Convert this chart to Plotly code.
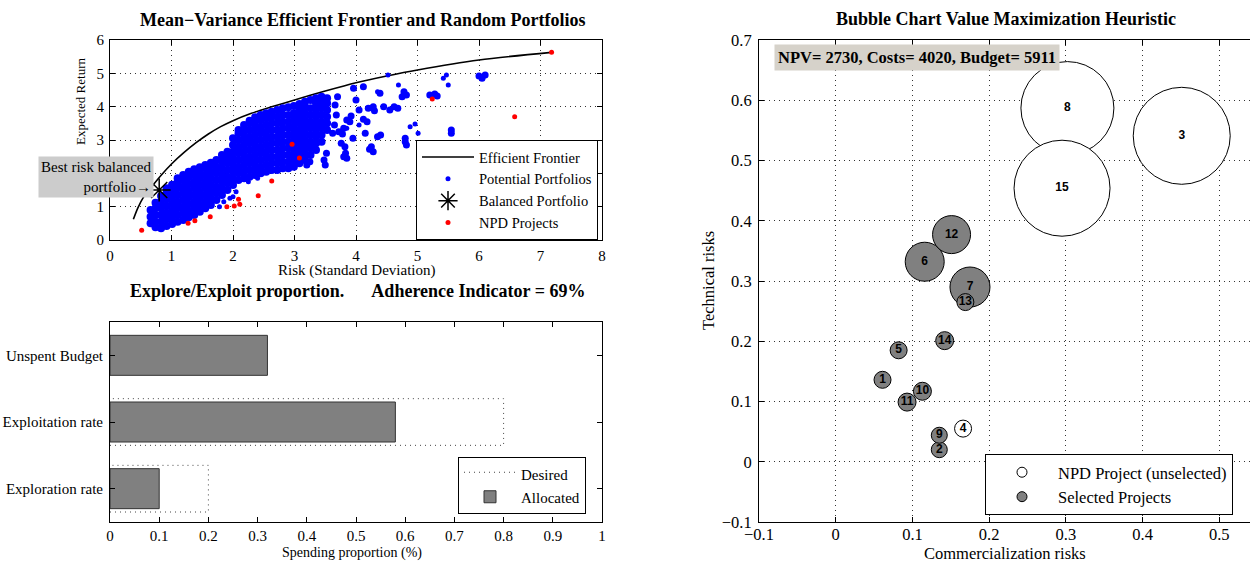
import plotly.graph_objects as go

# ---------------- data: top-left (efficient frontier) ----------------
frontier_risk = [0.38, 0.45, 0.55, 0.7, 0.85, 1.0, 1.2, 1.4, 1.6, 1.8, 2.0, 2.3, 2.6, 3.0, 3.5, 4.0, 4.5, 5.0, 6.0, 7.18]
frontier_ret = [0.62, 0.95, 1.3, 1.65, 1.98, 2.28, 2.62, 2.92, 3.18, 3.4, 3.58, 3.8, 3.98, 4.2, 4.47, 4.72, 4.92, 5.1, 5.4, 5.63]

# y tick labels of the top-left panel ("2" is hidden under the annotation box in the original)
ret_tickvals = [0, 1, 2, 3, 4, 5, 6]
ret_ticktext = ["0", "1", "", "3", "4", "5", "6"]

# dense part of the random-portfolio cloud, read column by column (risk, [returns])
cloud_cols = [
    (0.66, [0.5, 0.7, 0.9]),
    (0.74, [0.38, 0.55, 0.75, 0.95, 1.12]),
    (0.83, [0.35, 0.55, 0.75, 0.95, 1.15, 1.32]),
    (0.92, [0.42, 0.62, 0.82, 1.02, 1.22, 1.42, 1.55]),
    (1.01, [0.48, 0.68, 0.88, 1.08, 1.28, 1.48, 1.66]),
    (1.10, [0.55, 0.75, 0.95, 1.15, 1.35, 1.55, 1.75, 1.85]),
    (1.19, [0.6, 0.8, 1.0, 1.2, 1.4, 1.6, 1.8, 1.95]),
    (1.28, [0.68, 0.88, 1.08, 1.28, 1.48, 1.68, 1.88, 2.05]),
    (1.37, [0.75, 0.95, 1.15, 1.35, 1.55, 1.75, 1.95, 2.12]),
    (1.46, [0.85, 1.05, 1.25, 1.45, 1.65, 1.85, 2.05, 2.18]),
    (1.55, [0.95, 1.15, 1.35, 1.55, 1.75, 1.95, 2.15, 2.25]),
    (1.64, [1.05, 1.25, 1.45, 1.65, 1.85, 2.05, 2.25, 2.32]),
    (1.73, [1.2, 1.4, 1.6, 1.8, 2.0, 2.2, 2.4]),
    (1.82, [1.35, 1.55, 1.75, 1.95, 2.15, 2.35, 2.55]),
    (1.91, [1.5, 1.7, 1.9, 2.1, 2.3, 2.5, 2.65]),
    (2.00, [1.65, 1.85, 2.05, 2.25, 2.45, 2.65, 2.85, 3.05]),
    (2.09, [1.8, 2.0, 2.2, 2.4, 2.6, 2.8, 3.0, 3.2, 3.3]),
    (2.18, [1.85, 2.05, 2.25, 2.45, 2.65, 2.85, 3.05, 3.25, 3.45]),
    (2.27, [1.9, 2.1, 2.3, 2.5, 2.7, 2.9, 3.1, 3.3, 3.5, 3.58]),
    (2.36, [1.95, 2.15, 2.35, 2.55, 2.75, 2.95, 3.15, 3.35, 3.55, 3.68]),
    (2.45, [2.0, 2.2, 2.4, 2.6, 2.8, 3.0, 3.2, 3.4, 3.6, 3.75]),
    (2.54, [2.05, 2.25, 2.45, 2.65, 2.85, 3.05, 3.25, 3.45, 3.65, 3.8]),
    (2.63, [2.1, 2.3, 2.5, 2.7, 2.9, 3.1, 3.3, 3.5, 3.7, 3.85]),
    (2.72, [2.1, 2.3, 2.5, 2.7, 2.9, 3.1, 3.3, 3.5, 3.7, 3.9]),
    (2.81, [2.15, 2.35, 2.55, 2.75, 2.95, 3.15, 3.35, 3.55, 3.75, 3.95]),
    (2.90, [2.15, 2.35, 2.55, 2.75, 2.95, 3.15, 3.35, 3.55, 3.75, 3.98]),
    (2.99, [2.2, 2.4, 2.6, 2.8, 3.0, 3.2, 3.4, 3.6, 3.8, 4.02]),
    (3.08, [2.3, 2.5, 2.7, 2.9, 3.1, 3.3, 3.5, 3.7, 3.9, 4.08]),
    (3.17, [2.4, 2.6, 2.8, 3.0, 3.2, 3.4, 3.6, 3.8, 4.0, 4.15]),
    (3.26, [2.55, 2.75, 2.95, 3.15, 3.35, 3.55, 3.75, 3.95, 4.2]),
    (3.35, [2.7, 2.9, 3.1, 3.3, 3.5, 3.7, 3.9, 4.1, 4.25]),
    (3.44, [2.95, 3.15, 3.35, 3.55, 3.75, 3.95, 4.15, 4.3]),
    (3.53, [3.3, 3.5, 3.7, 3.9, 4.1, 4.25]),
]

# outlying clusters of portfolios
cluster_pts = [
    (3.62, 3.2), (3.65, 3.45), (3.68, 3.75), (3.66, 4.05), (3.7, 4.3),
    (3.72, 3.25), (3.8, 3.35), (3.78, 3.18),
    (3.85, 3.6), (3.92, 3.72), (3.9, 3.55),
    (4.12, 3.62), (4.18, 3.55),
    (4.2, 3.95), (4.28, 4.0), (4.3, 3.88),
    (4.55, 3.9), (4.62, 4.0), (4.68, 3.95),
    (4.78, 4.45), (4.82, 4.35), (4.75, 4.3),
    (5.2, 4.35), (5.28, 4.38), (5.32, 4.32),
    (5.55, 3.3), (5.55, 3.2),
    (6.0, 4.92), (6.05, 4.85), (6.1, 4.95),
    (3.76, 2.9), (3.82, 2.8), (3.8, 2.5), (3.85, 2.45), (3.83, 2.6),
    (3.52, 2.6), (3.48, 2.4), (3.5, 2.25),
    (3.25, 2.35), (3.2, 2.25),
    (4.22, 2.72), (4.28, 2.65), (4.25, 2.8),
    (4.35, 3.1), (4.4, 3.15),
    (4.8, 2.95), (4.82, 2.85), (4.8, 3.05),
    (4.05, 3.9), (4.0, 4.2), (4.45, 4.0), (4.15, 3.2), (3.95, 3.05),
    (4.12, 4.6), (4.39, 4.4), (3.96, 4.55),
]

# isolated single portfolios
single_pts = [
    (4.52, 4.95), (4.69, 4.65), (5.42, 4.85), (5.47, 4.95), (5.5, 4.65),
    (4.88, 3.4), (4.96, 3.48), (5.01, 3.2), (4.35, 4.45), (4.05, 3.45),
    (3.85, 3.35), (1.85, 1.15), (1.95, 1.25), (2.0, 1.3), (2.05, 1.45),
    (1.78, 1.0), (2.25, 1.75), (2.4, 1.85),
]

balanced_risk = [0.8]
balanced_ret = [1.5]

npd_risk = [0.515, 1.27, 1.38, 1.63, 1.90, 2.02, 2.09, 2.11, 2.41, 2.63, 2.96, 3.08, 5.24, 6.58, 7.18]
npd_ret = [0.29, 0.5, 0.58, 0.7, 1.0, 1.02, 1.22, 1.07, 1.33, 1.77, 2.87, 2.46, 4.23, 3.70, 5.63]

# ---------------- data: bottom-left (explore / exploit) ----------------
bar_categories = ["Exploration rate", "Exploitation rate", "Unspent Budget"]
desired = [0.2, 0.8, 0.0]
allocated = [0.10, 0.58, 0.32]
adherence = 69

# ---------------- data: right (bubble chart) ----------------
project_ids = [1, 2, 3, 4, 5, 6, 7, 8, 9, 10, 11, 12, 13, 14, 15]
comm_risk = [0.061, 0.135, 0.451, 0.166, 0.082, 0.116, 0.175, 0.302, 0.135, 0.113, 0.093, 0.151, 0.169, 0.142, 0.295]
tech_risk = [0.136, 0.020, 0.541, 0.055, 0.185, 0.332, 0.290, 0.587, 0.044, 0.117, 0.099, 0.377, 0.265, 0.201, 0.454]
bubble_metric = [17, 16, 97, 17, 17, 39, 40, 93, 16, 18, 18, 38, 17, 18, 96]
selected = [1, 1, 0, 0, 1, 1, 1, 0, 1, 1, 1, 1, 1, 1, 0]
npv, costs, budget = 2730, 4020, 5911

# ---------------- figure ----------------
SERIF = "Liberation Serif"
SANS = "Liberation Sans"
fig = go.Figure()

cloud_x = [c[0] for c in cloud_cols for _ in c[1]]
cloud_y = [y for c in cloud_cols for y in c[1]]
blue = "#0000ff"

fig.add_trace(go.Scatter(x=frontier_risk, y=frontier_ret, mode="lines",
                         line=dict(color="black", width=1.6, shape="spline", smoothing=0.8),
                         name="Efficient Frontier", xaxis="x", yaxis="y", legend="legend"))
fig.add_trace(go.Scatter(x=cloud_x, y=cloud_y, mode="markers", marker=dict(color=blue, size=8),
                         showlegend=False, xaxis="x", yaxis="y"))
fig.add_trace(go.Scatter(x=[p[0] for p in cluster_pts], y=[p[1] for p in cluster_pts], mode="markers",
                         marker=dict(color=blue, size=7), showlegend=False, xaxis="x", yaxis="y"))
fig.add_trace(go.Scatter(x=[p[0] for p in single_pts], y=[p[1] for p in single_pts], mode="markers",
                         marker=dict(color=blue, size=5), name="Potential Portfolios", xaxis="x", yaxis="y", legend="legend"))
fig.add_trace(go.Scatter(x=balanced_risk, y=balanced_ret, mode="markers",
                         marker=dict(symbol="asterisk-open", size=19, color="black", line=dict(color="black", width=1.5)),
                         name="Balanced Portfolio", xaxis="x", yaxis="y", legend="legend"))
fig.add_trace(go.Scatter(x=npd_risk, y=npd_ret, mode="markers", marker=dict(color="#ff0000", size=5),
                         name="NPD Projects", xaxis="x", yaxis="y", legend="legend"))

# bottom-left: desired (dotted outline) and allocated bars
ypos = list(range(len(bar_categories)))
dx, dy = [], []
for i, d in enumerate(desired):
    if d > 0:
        dx += [0, d, d, 0, None]
        dy += [i - 0.35, i - 0.35, i + 0.35, i + 0.35, None]
fig.add_trace(go.Scatter(x=dx, y=dy, mode="lines", fill="toself", fillcolor="rgba(255,255,255,0)",
                         line=dict(color="#444444", width=1, dash="1px,4px"),
                         name="Desired", xaxis="x2", yaxis="y2", legend="legend2"))
fig.add_trace(go.Bar(x=allocated, y=ypos, orientation="h", width=0.6,
                     marker=dict(color="#808080", line=dict(color="#333333", width=1)),
                     name="Allocated", xaxis="x2", yaxis="y2", legend="legend2"))

# right: bubbles
for flag, fill in [(1, "#808080"), (0, "white")]:
    idx = [i for i in range(len(project_ids)) if selected[i] == flag]
    fig.add_trace(go.Scatter(
        x=[comm_risk[i] for i in idx], y=[tech_risk[i] for i in idx],
        text=[str(project_ids[i]) for i in idx], mode="markers+text", textposition="middle center",
        textfont=dict(family=SANS, size=12, color="black", weight="bold"),
        marker=dict(size=[bubble_metric[i] for i in idx], sizemode="diameter", color=fill, opacity=1,
                    line=dict(color="black", width=1)),
        showlegend=False, xaxis="x3", yaxis="y3", cliponaxis=False))
fig.add_trace(go.Scatter(x=[None], y=[None], mode="markers", marker=dict(size=10, color="white", line=dict(color="black", width=1)),
                         name="NPD Project (unselected)", xaxis="x3", yaxis="y3", legend="legend3"))
fig.add_trace(go.Scatter(x=[None], y=[None], mode="markers", marker=dict(size=10, color="#808080", line=dict(color="black", width=1)),
                         name="Selected Projects", xaxis="x3", yaxis="y3", legend="legend3"))

W, H = 1250, 562
def px_x(p): return p / W
def px_y(p): return 1 - p / H

grid = dict(showgrid=True, gridcolor="#333333", gridwidth=1, griddash="1px,4px")
axbase = dict(showline=True, linecolor="black", linewidth=1, mirror="ticks", ticks="inside", ticklen=5,
              tickcolor="black", zeroline=False, color="black", automargin=False)

fig.update_layout(
    width=W, height=H, margin=dict(l=0, r=0, t=0, b=0, autoexpand=False),
    paper_bgcolor="white", plot_bgcolor="white",
    font=dict(family=SERIF, color="black", size=15),
    xaxis=dict(domain=[px_x(110), px_x(602)], range=[0, 8], dtick=1, anchor="y",
               tickfont=dict(size=15), ticklabelstandoff=2, **axbase, **grid),
    yaxis=dict(domain=[px_y(240), px_y(40)], range=[0, 6], anchor="x",
               tickvals=ret_tickvals, ticktext=ret_ticktext,
               tickfont=dict(size=15), ticklabelstandoff=2, **axbase, **grid),
    xaxis2=dict(domain=[px_x(110), px_x(602)], range=[0, 1], dtick=0.1, anchor="y2",
                tickfont=dict(size=15), showgrid=False, **axbase),
    yaxis2=dict(domain=[px_y(522), px_y(322)], range=[-0.5, 2.5], anchor="x2", ticklabelstandoff=3,
                tickvals=ypos, ticktext=bar_categories, tickfont=dict(size=15), showgrid=False, **axbase),
    xaxis3=dict(domain=[px_x(759), 1.0], range=[-0.1, 0.54], dtick=0.1, anchor="y3",
                tickfont=dict(size=16.5), ticklabelstandoff=-3, **axbase, **grid),
    yaxis3=dict(domain=[px_y(522), px_y(40)], range=[-0.1, 0.7], dtick=0.1, anchor="x3",
                tickfont=dict(size=16.5), showline=True, linecolor="black", linewidth=1, mirror=False,
                ticks="inside", ticklen=5, tickcolor="black", zeroline=False, color="black",
                automargin=False, ticklabelstandoff=3, **grid),
    barmode="overlay",
    legend=dict(x=px_x(598), xanchor="right", y=px_y(240), yanchor="bottom", bgcolor="white",
                bordercolor="black", borderwidth=1, font=dict(size=14.5), tracegroupgap=0, itemwidth=52),
    legend2=dict(x=px_x(586), xanchor="right", y=px_y(514), yanchor="bottom", bgcolor="white",
                 bordercolor="black", borderwidth=1, font=dict(size=15), itemwidth=52),
    legend3=dict(x=px_x(1233), xanchor="right", y=px_y(515), yanchor="bottom", bgcolor="white",
                 bordercolor="black", borderwidth=1, font=dict(size=16.5), itemwidth=62),
)

ann = []
def text(x, y, s, size=15, bold=False, angle=0, xanchor="center"):
    ann.append(dict(x=px_x(x), y=px_y(y), xref="paper", yref="paper", text=f"<b>{s}</b>" if bold else s,
                    showarrow=False, font=dict(family=SERIF, size=size, color="black"), textangle=angle,
                    xanchor=xanchor, yanchor="middle"))

text(362, 20, "Mean\u2212Variance Efficient Frontier and Random Portfolios", 18, True)
text(356, 271, "Risk (Standard Deviation)", 15)
text(81, 102, "Expected Return", 13, angle=-90)
text(357, 291, "Explore/Exploit proportion." + "\u00a0" * 6 + f"Adherence Indicator = {adherence}%", 18, True)
text(352, 553, "Spending proportion (%)", 14)
text(1006, 19, "Bubble Chart Value Maximization Heuristic", 18, True)
text(1005, 553, "Commercialization risks", 16.5)
text(708, 281, "Technical risks", 16.5, angle=-90)

ann.append(dict(x=px_x(154), y=px_y(156), xref="paper", yref="paper", xanchor="right", yanchor="top",
                text="Best risk balanced<br>portfolio\u2192", align="right", showarrow=False,
                font=dict(family=SERIF, size=15, color="black"), bgcolor="#cccccc", borderpad=2))
ann.append(dict(x=-0.08, y=0.693, xref="x3", yref="y3", xanchor="left", yanchor="top",
                text=f"<b>NPV= {npv}, Costs= {costs}, Budget= {budget}</b>", showarrow=False,
                font=dict(family=SERIF, size=16.5, color="black"), bgcolor="#d6d2ca", borderpad=3))
fig.update_layout(annotations=ann)

fig.write_html("out.html")
